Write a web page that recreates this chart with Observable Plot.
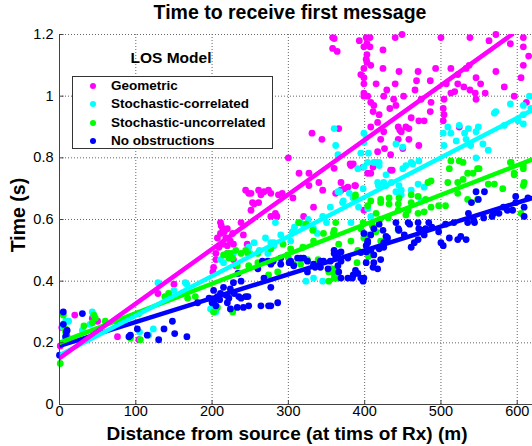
<!DOCTYPE html>
<html><head><meta charset="utf-8">
<script src="https://cdn.jsdelivr.net/npm/d3@7"></script>
<script src="https://cdn.jsdelivr.net/npm/@observablehq/plot@0.6"></script>
<style>
body{margin:0;background:#fff;font-family:"Liberation Sans",Arial,Helvetica,sans-serif;}
#wrap{position:relative;width:532px;height:446px;overflow:hidden;}
#chart{position:absolute;left:0;top:0;}
.t{position:absolute;font-weight:bold;color:#000;white-space:nowrap;line-height:22px;}
#title{left:0;width:580px;top:1px;text-align:center;font-size:19.5px;}
#xlab{left:0;width:574px;top:424px;text-align:center;font-size:19px;line-height:20px;}
#ylab{left:18px;top:215px;font-size:19.5px;transform:translate(-50%,-50%) rotate(-90deg);}
#legtitle{left:0;width:342px;top:47px;text-align:center;font-size:15.5px;}
#legend{position:absolute;left:72px;top:76px;width:201px;height:73px;box-sizing:border-box;border:1px solid #333;background:#fff;}
.row{position:absolute;left:0;height:18px;font-weight:bold;font-size:13.5px;white-space:nowrap;}
.row .dot{position:absolute;left:17px;top:6px;width:6px;height:6px;border-radius:50%;}
.row .lbl{position:absolute;left:38px;top:0px;line-height:18px;}
</style></head>
<body><div id="wrap"><div id="chart"></div>
<div class="t" id="title">Time to receive first message</div>
<div class="t" id="xlab">Distance from source (at tims of Rx) (m)</div>
<div class="t" id="ylab">Time (s)</div>
<div class="t" id="legtitle">LOS Model</div>
<div id="legend"></div>
</div>
<script>
const seriesNames = ["Geometric", "Stochastic-correlated", "Stochastic-uncorrelated", "No obstructions"];
const seriesColors = ["#ff00ff", "#00ffff", "#00ff00", "#0000ff"];
const xTicks = [0, 100, 200, 300, 400, 500, 600];
const yTicks = [0, 0.2, 0.4, 0.6, 0.8, 1, 1.2];

const geometric = [[1,0.19],[3,0.25],[10,0.22],[20,0.29],[43,0.28],[50,0.27],[76,0.22],[104,0.21],[129,0.36],[150,0.39],
[201,0.43],[202,0.445],[205,0.47],[205,0.49],[207,0.54],[211,0.555],[211,0.59],[214,0.52],[214,0.57],[218,0.54],[220,0.515],[220,0.57],[220,0.49],[227,0.555],[228,0.52],[228,0.47],[231,0.45],[238,0.59],[241,0.55],[246,0.52],[209,0.51],[216,0.56],[224,0.53],[212,0.58],
[244,0.695],[248,0.685],[251,0.685],[253,0.655],[255,0.65],[251,0.63],[261,0.695],[264,0.68],[261,0.655],[268,0.69],[274,0.695],[277,0.685],[283,0.62],[285,0.61],[277,0.61],[287,0.68],[292,0.685],[300,0.80],[306,0.67],[314,0.75],[320,0.61],[327,0.75],[327,0.71],[331,0.88],[333,0.64],[340,0.72],[344,0.86],[345,0.695],[358,1.19],[360,1.187],[358,1.155],[364,1.145],[360,0.766],[362,0.685],[366,0.895],[369,0.72],[369,0.695],[373,0.70],[378,0.705],[381,0.78],[382,0.775],[385,0.78],[387,0.71],[388,0.71],[393,1.18],[395,1.07],[398,0.77],[399,1.16],[399,1.09],[399,1.06],[399,1.04],[399,1.01],[399,1.0],[399,0.63],[402,1.19],[403,1.17],[403,1.135],[402,1.12],[403,1.11],[404,1.0],[404,0.75],[407,1.19],[407,1.16],[408,1.10],[408,0.98],[408,0.90],[408,0.75],[411,0.95],[411,0.77],[412,0.97],[415,1.04],[417,0.915],[417,0.82],[419,0.94],[421,0.86],[424,1.15],[424,1.09],[425,1.0],[425,0.885],[426,0.83],[429,1.02],[433,0.96],[434,0.81],[434,0.76],[436,0.76],[438,0.99],[440,1.19],[440,1.04],[441,0.97],[444,0.90],[444,0.86],[445,1.08],[446,0.89],[448,0.885],[449,1.2],[450,0.83],[451,1.0],[454,0.90],[458,0.895],[458,0.86],[461,0.93],[466,1.02],[468,1.05],[470,1.08],[471,0.92],[471,0.84],[474,0.99],[478,0.92],[486,1.05],[486,0.95],[487,0.98],[493,1.09],[500,1.19],[503,0.96],[503,0.92],[504,0.99],[504,0.94],[507,1.04],[513,1.09],[513,1.01],[518,1.015],[522,1.07],[522,1.04],[524,0.90],[530,1.03],[533,1.09],[537,1.10],[538,1.19],[538,1.02],[545,1.01],[546,1.06],[546,0.99],[552,1.04],[558,1.01],[563,1.18],[572,1.2],[572,1.08],[583,1.03],[591,1.17],[596,1.0],[605,1.06],[608,1.19],[608,1.16],[608,1.10],[615,1.13],[612,0.98]];

const correlated = [[5,0.25],[8,0.22],[8,0.27],[12,0.27],[30,0.24],[40,0.26],[43,0.30],[45,0.29],[105,0.235],[117,0.225],[123,0.245],[129,0.395],[143,0.35],[150,0.37],[165,0.395],[167,0.39],
[198,0.31],[201,0.305],[205,0.30],[211,0.47],[215,0.46],[222,0.48],[225,0.31],[228,0.49],[248,0.51],[250,0.49],[255,0.525],[262,0.50],[270,0.54],[273,0.49],[277,0.525],[281,0.515],[281,0.525],[283,0.59],[290,0.55],[303,0.53],[305,0.56],[308,0.575],[313,0.59],[316,0.59],[320,0.58],[323,0.40],[326,0.60],[333,0.57],[333,0.41],[338,0.555],[345,0.40],[345,0.61],[350,0.59],[355,0.64],[360,0.895],[362,0.84],[365,0.81],[365,0.69],[367,0.69],[371,0.655],[372,0.66],[380,0.685],[382,0.59],[385,0.67],[391,0.765],[392,0.64],[395,0.815],[398,0.70],[399,0.88],[399,0.85],[399,0.77],[402,0.865],[404,0.785],[404,0.635],[405,0.815],[408,0.61],[412,0.785],[415,0.785],[417,0.72],[418,0.71],[419,0.785],[419,0.775],[425,0.72],[428,0.745],[428,0.71],[435,0.72],[441,0.845],[441,0.69],[445,0.71],[448,0.695],[448,0.68],[450,0.835],[450,0.765],[454,0.775],[461,0.785],[461,0.695],[463,0.78],[470,0.715],[471,0.79],[474,0.66],[478,0.705],[503,0.88],[504,0.84],[509,0.90],[513,0.88],[520,0.855],[524,0.905],[531,0.88],[533,0.86],[536,0.895],[539,0.84],[546,0.885],[546,0.80],[549,0.90],[555,0.845],[562,0.825],[570,0.945],[572,0.95],[583,0.905],[591,0.975],[601,0.92],[608,0.97],[608,0.94],[608,0.91],[616,1.0],[618,0.96]];

const uncorrelated = [[1,0.133],[5,0.29],[8,0.245],[8,0.235],[12,0.21],[32,0.255],[43,0.265],[45,0.29],[47,0.28],[60,0.27],[76,0.265],[93,0.215],[104,0.295],[106,0.21],[138,0.35],[143,0.36],[168,0.345],[178,0.35],[202,0.30],[207,0.315],[215,0.485],[220,0.49],[222,0.475],[224,0.49],[227,0.30],[227,0.475],[231,0.50],[233,0.45],[238,0.49],[244,0.50],[247,0.49],[248,0.45],[260,0.46],[260,0.49],[274,0.42],[277,0.505],[286,0.43],[293,0.52],[299,0.485],[300,0.475],[303,0.505],[307,0.455],[314,0.59],[316,0.455],[319,0.51],[323,0.585],[325,0.47],[332,0.565],[333,0.53],[339,0.47],[346,0.555],[353,0.40],[353,0.43],[356,0.44],[358,0.44],[359,0.555],[360,0.565],[360,0.41],[360,0.425],[362,0.59],[362,0.41],[365,0.41],[366,0.52],[382,0.53],[388,0.67],[388,0.68],[390,0.46],[391,0.50],[395,0.57],[398,0.59],[399,0.54],[404,0.645],[404,0.55],[405,0.48],[408,0.66],[410,0.58],[415,0.62],[415,0.56],[420,0.60],[421,0.665],[421,0.655],[421,0.53],[431,0.605],[432,0.67],[432,0.65],[444,0.63],[444,0.65],[444,0.565],[445,0.67],[454,0.615],[457,0.63],[461,0.68],[461,0.655],[470,0.675],[470,0.62],[478,0.625],[480,0.665],[483,0.72],[487,0.725],[487,0.64],[497,0.645],[506,0.645],[509,0.72],[511,0.765],[513,0.79],[522,0.72],[522,0.685],[524,0.79],[529,0.73],[529,0.785],[535,0.75],[535,0.665],[542,0.75],[548,0.765],[548,0.665],[550,0.765],[562,0.715],[570,0.715],[581,0.70],[591,0.785],[592,0.785],[596,0.745],[596,0.75],[605,0.62],[608,0.765],[608,0.71],[609,0.72],[608,0.775]];

const noObstructions = [[0,0.16],[5,0.30],[5,0.26],[8,0.22],[9,0.235],[10,0.24],[30,0.295],[91,0.22],[93,0.225],[102,0.245],[115,0.225],[130,0.21],[137,0.245],[148,0.27],[151,0.23],[167,0.22],[181,0.33],[196,0.345],[200,0.33],[202,0.37],[204,0.34],[205,0.32],[207,0.35],[210,0.34],[211,0.36],[215,0.38],[218,0.355],[220,0.33],[222,0.345],[224,0.375],[224,0.31],[228,0.395],[229,0.36],[233,0.315],[234,0.425],[235,0.35],[238,0.40],[238,0.345],[241,0.315],[244,0.35],[247,0.35],[248,0.32],[260,0.44],[264,0.32],[266,0.465],[268,0.41],[273,0.465],[274,0.32],[277,0.38],[277,0.455],[277,0.32],[280,0.465],[286,0.33],[290,0.455],[290,0.475],[301,0.46],[303,0.465],[307,0.45],[312,0.475],[316,0.475],[320,0.475],[325,0.43],[325,0.465],[333,0.455],[335,0.445],[342,0.465],[342,0.445],[346,0.465],[352,0.44],[355,0.465],[360,0.49],[360,0.50],[362,0.475],[365,0.49],[365,0.485],[365,0.45],[366,0.43],[369,0.495],[369,0.465],[369,0.41],[378,0.475],[378,0.41],[384,0.41],[385,0.42],[388,0.435],[391,0.425],[395,0.41],[395,0.493],[398,0.40],[399,0.41],[399,0.555],[402,0.495],[402,0.515],[402,0.46],[404,0.53],[404,0.525],[408,0.55],[408,0.50],[411,0.445],[412,0.57],[412,0.485],[412,0.46],[417,0.44],[419,0.585],[419,0.505],[421,0.47],[424,0.565],[425,0.51],[425,0.525],[428,0.545],[430,0.54],[441,0.59],[444,0.57],[445,0.565],[452,0.55],[457,0.59],[459,0.585],[461,0.51],[465,0.525],[470,0.535],[470,0.59],[471,0.57],[476,0.565],[478,0.55],[480,0.57],[484,0.59],[488,0.575],[497,0.56],[500,0.525],[503,0.515],[506,0.585],[511,0.54],[517,0.59],[522,0.535],[526,0.545],[533,0.535],[535,0.59],[536,0.62],[540,0.655],[543,0.597],[544,0.59],[546,0.69],[549,0.665],[556,0.605],[557,0.69],[567,0.61],[569,0.62],[576,0.62],[582,0.64],[587,0.63],[594,0.63],[598,0.675],[598,0.655],[609,0.64],[609,0.61],[614,0.67]];

// fitted line end points [x, y]
const geometricFit = [[0,0.15],[593,1.2]];
const correlatedFit = [[0,0.16],[620,0.955]];
const uncorrelatedFit = [[0,0.2],[620,0.795]];
const noObstructionsFit = [[0,0.19],[620,0.67]];

const pointSets = [geometric, correlated, uncorrelated, noObstructions];
const fitSets = [geometricFit, correlatedFit, uncorrelatedFit, noObstructionsFit];

const gridStyle = {stroke:"#666", strokeOpacity:1, strokeWidth:1, strokeDasharray:"1,2"};
const marks = [
  Plot.gridX(xTicks.slice(1), gridStyle),
  Plot.gridY(yTicks.slice(1), gridStyle),
];
pointSets.forEach((pts, i) => {
  marks.push(Plot.dot(pts, {x: d => d[0], y: d => d[1], r: 3.4, fill: seriesColors[i], stroke: "none"}));
});
[3, 2, 1, 0].forEach(i => {
  marks.push(Plot.line(fitSets[i], {x: d => d[0], y: d => d[1], stroke: seriesColors[i], strokeWidth: 4.5, clip: true}));
});
marks.push(
  Plot.ruleX([0], {stroke:"#444", strokeWidth:1}),
  Plot.ruleY([0], {stroke:"#444", strokeWidth:1}),
  Plot.ruleY(yTicks, {x1: 0, x2: 6, stroke:"#444"}),
  Plot.ruleX(xTicks, {y1: 0, y2: 0.013, stroke:"#444"}),
  Plot.axisX(xTicks, {tickSize: 0, tickPadding: 1, tickFormat: d => String(d), fontSize: 14.5}),
  Plot.axisY(yTicks, {tickSize: 0, tickPadding: 6, tickFormat: d => String(d), fontSize: 14.5})
);

const chart = Plot.plot({
  width: 532, height: 446,
  marginLeft: 59, marginRight: 0, marginTop: 34, marginBottom: 42,
  style: {fontFamily: '"Liberation Sans", Arial, sans-serif', fontSize: "14.5px", color: "#000", background: "transparent", overflow: "visible"},
  x: {domain: [0, 620], label: null},
  y: {domain: [0, 1.2], label: null},
  marks
});
document.getElementById("chart").appendChild(chart);

const legend = document.getElementById("legend");
seriesNames.forEach((name, i) => {
  const row = document.createElement("div");
  row.className = "row";
  row.style.top = (0 + i * 18.3) + "px";
  row.innerHTML = `<span class="dot" style="background:${seriesColors[i]}"></span><span class="lbl">${name}</span>`;
  legend.appendChild(row);
});
</script>
</body></html>
